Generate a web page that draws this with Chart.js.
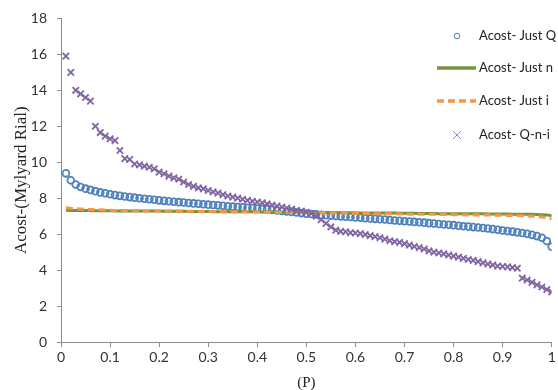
<!DOCTYPE html>
<html>
<head>
<meta charset="utf-8">
<script src="https://cdn.jsdelivr.net/npm/chart.js@4.4.0/dist/chart.umd.min.js"></script>
<style>
  html, body { margin: 0; padding: 0; background: #fff; }
  #wrap { width: 558px; height: 390px; position: relative; }
</style>
</head>
<body>
<div id="wrap"><canvas id="chart"></canvas></div>
<script>
// P VALUES (x axis)
const pValues = [
  0.01, 0.02, 0.03, 0.04, 0.05, 0.06, 0.07, 0.08, 0.09, 0.10,
  0.11, 0.12, 0.13, 0.14, 0.15, 0.16, 0.17, 0.18, 0.19, 0.20,
  0.21, 0.22, 0.23, 0.24, 0.25, 0.26, 0.27, 0.28, 0.29, 0.30,
  0.31, 0.32, 0.33, 0.34, 0.35, 0.36, 0.37, 0.38, 0.39, 0.40,
  0.41, 0.42, 0.43, 0.44, 0.45, 0.46, 0.47, 0.48, 0.49, 0.50,
  0.51, 0.52, 0.53, 0.54, 0.55, 0.56, 0.57, 0.58, 0.59, 0.60,
  0.61, 0.62, 0.63, 0.64, 0.65, 0.66, 0.67, 0.68, 0.69, 0.70,
  0.71, 0.72, 0.73, 0.74, 0.75, 0.76, 0.77, 0.78, 0.79, 0.80,
  0.81, 0.82, 0.83, 0.84, 0.85, 0.86, 0.87, 0.88, 0.89, 0.90,
  0.91, 0.92, 0.93, 0.94, 0.95, 0.96, 0.97, 0.98, 0.99, 1.00
];

// Acost- Just Q (blue circles)
const justQ = [
  9.38, 9.00, 8.76, 8.62, 8.53, 8.46, 8.39, 8.32, 8.27, 8.22,
  8.17, 8.13, 8.09, 8.06, 8.03, 8.00, 7.97, 7.94, 7.91, 7.88,
  7.85, 7.83, 7.80, 7.78, 7.76, 7.73, 7.71, 7.69, 7.66, 7.64,
  7.62, 7.60, 7.58, 7.55, 7.53, 7.51, 7.49, 7.47, 7.45, 7.43,
  7.40, 7.38, 7.35, 7.32, 7.29, 7.26, 7.23, 7.20, 7.17, 7.14,
  7.12, 7.10, 7.07, 7.05, 7.03, 7.01, 6.99, 6.97, 6.95, 6.93,
  6.91, 6.89, 6.87, 6.85, 6.83, 6.81, 6.79, 6.76, 6.74, 6.72,
  6.70, 6.68, 6.66, 6.64, 6.61, 6.59, 6.56, 6.54, 6.52, 6.50,
  6.47, 6.44, 6.42, 6.39, 6.37, 6.34, 6.31, 6.28, 6.24, 6.20,
  6.17, 6.14, 6.10, 6.06, 6.02, 5.96, 5.89, 5.80, 5.62, 5.30
];

// Acost- Just n (green line)
const justN = [
  7.33, 7.32, 7.32, 7.31, 7.31, 7.31, 7.30, 7.30, 7.30, 7.30,
  7.29, 7.29, 7.29, 7.29, 7.28, 7.28, 7.28, 7.28, 7.28, 7.28,
  7.27, 7.27, 7.27, 7.27, 7.27, 7.26, 7.26, 7.26, 7.26, 7.26,
  7.25, 7.25, 7.25, 7.25, 7.25, 7.24, 7.24, 7.24, 7.24, 7.24,
  7.23, 7.23, 7.23, 7.23, 7.22, 7.22, 7.22, 7.22, 7.21, 7.21,
  7.21, 7.21, 7.20, 7.20, 7.20, 7.20, 7.19, 7.19, 7.19, 7.19,
  7.18, 7.18, 7.18, 7.18, 7.17, 7.17, 7.17, 7.17, 7.16, 7.16,
  7.16, 7.16, 7.15, 7.15, 7.15, 7.15, 7.14, 7.14, 7.14, 7.14,
  7.14, 7.13, 7.13, 7.13, 7.13, 7.13, 7.12, 7.12, 7.12, 7.12,
  7.12, 7.11, 7.11, 7.11, 7.10, 7.10, 7.09, 7.08, 7.06, 7.03
];

// Acost- Just i (orange dashed)
const justI = [
  7.47, 7.44, 7.42, 7.40, 7.38, 7.37, 7.36, 7.35, 7.34, 7.33,
  7.32, 7.32, 7.31, 7.31, 7.30, 7.30, 7.30, 7.29, 7.29, 7.29,
  7.28, 7.28, 7.28, 7.28, 7.27, 7.27, 7.27, 7.27, 7.26, 7.26,
  7.26, 7.26, 7.25, 7.25, 7.25, 7.24, 7.24, 7.24, 7.23, 7.23,
  7.23, 7.22, 7.22, 7.22, 7.21, 7.21, 7.21, 7.20, 7.20, 7.20,
  7.19, 7.19, 7.19, 7.18, 7.18, 7.17, 7.17, 7.17, 7.16, 7.16,
  7.15, 7.15, 7.15, 7.14, 7.14, 7.13, 7.13, 7.13, 7.12, 7.12,
  7.11, 7.11, 7.11, 7.10, 7.10, 7.10, 7.09, 7.09, 7.09, 7.08,
  7.08, 7.08, 7.07, 7.07, 7.07, 7.06, 7.06, 7.06, 7.05, 7.05,
  7.04, 7.04, 7.03, 7.02, 7.01, 7.00, 6.98, 6.95, 6.91, 6.85
];

// Acost- Q-n-i (purple crosses)
const justQni = [
  15.90, 15.00, 14.00, 13.80, 13.60, 13.40, 12.00, 11.65, 11.45, 11.30,
  11.20, 10.65, 10.20, 10.15, 9.90, 9.85, 9.78, 9.72, 9.63, 9.45,
  9.36, 9.23, 9.13, 9.05, 8.90, 8.76, 8.66, 8.57, 8.52, 8.43,
  8.35, 8.28, 8.20, 8.12, 8.06, 8.00, 7.94, 7.88, 7.83, 7.79,
  7.74, 7.68, 7.61, 7.56, 7.51, 7.45, 7.39, 7.33, 7.28, 7.22,
  7.15, 7.00, 6.80, 6.60, 6.40, 6.22, 6.15, 6.13, 6.08, 6.06,
  6.03, 5.98, 5.92, 5.86, 5.80, 5.72, 5.63, 5.58, 5.54, 5.47,
  5.39, 5.31, 5.25, 5.17, 5.07, 5.00, 4.95, 4.90, 4.84, 4.78,
  4.72, 4.65, 4.59, 4.54, 4.47, 4.40, 4.34, 4.28, 4.22, 4.20,
  4.18, 4.14, 4.10, 3.55, 3.45, 3.32, 3.18, 3.06, 2.92, 2.78
];

const seriesNames = ["Acost- Just Q", "Acost- Just n", "Acost- Just i", "Acost- Q-n-i"];

const AXIS_COLOR = "#8c8c8c";
const TICK_FONT = { family: "Lato, 'Noto Sans', sans-serif", size: 14 };

function toPoints(values) {
  return pValues.map((p, i) => ({ x: p, y: values[i] }));
}

// LEGEND (drawn inside plot, top right)
const legendPlugin = {
  id: "insideLegend",
  afterDatasetsDraw(chart) {
    const ctx = chart.ctx;
    const rows = [36, 68, 101, 135];
    const textX = 479;
    ctx.save();
    ctx.font = "13px Lato, 'Noto Sans', sans-serif";
    ctx.fillStyle = "#222";
    ctx.textBaseline = "middle";
    ctx.textAlign = "left";

    // circle
    ctx.strokeStyle = "#4F81BD";
    ctx.lineWidth = 1;
    ctx.beginPath();
    ctx.arc(457, rows[0], 2.8, 0, Math.PI * 2);
    ctx.stroke();

    // green line
    ctx.strokeStyle = "#77933C";
    ctx.lineWidth = 3.5;
    ctx.beginPath();
    ctx.moveTo(437, rows[1]);
    ctx.lineTo(476, rows[1]);
    ctx.stroke();

    // orange dashed
    ctx.strokeStyle = "#F79646";
    ctx.setLineDash([7, 4]);
    ctx.beginPath();
    ctx.moveTo(437, rows[2]);
    ctx.lineTo(476, rows[2]);
    ctx.stroke();
    ctx.setLineDash([]);

    // cross
    ctx.strokeStyle = "#9C88C0";
    ctx.lineWidth = 1;
    ctx.beginPath();
    ctx.moveTo(453, rows[3] - 4);
    ctx.lineTo(461, rows[3] + 4);
    ctx.moveTo(461, rows[3] - 4);
    ctx.lineTo(453, rows[3] + 4);
    ctx.stroke();

    seriesNames.forEach((name, i) => ctx.fillText(name, textX, rows[i]));
    ctx.restore();
  }
};

const ctx = document.getElementById("chart").getContext("2d");
const chart = new Chart(ctx, {
  type: "scatter",
  data: {
    datasets: [
      {
        label: seriesNames[0],
        data: toPoints(justQ),
        showLine: false,
        pointStyle: "circle",
        pointRadius: 3.4,
        pointBorderWidth: 1.8,
        pointBorderColor: "#4F81BD",
        pointBackgroundColor: "rgba(255,255,255,0)",
        order: 3,
      },
      {
        label: seriesNames[1],
        data: toPoints(justN),
        showLine: true,
        borderColor: "#77933C",
        borderWidth: 3,
        pointRadius: 0,
        order: 2,
      },
      {
        label: seriesNames[2],
        data: toPoints(justI),
        showLine: true,
        borderColor: "#F79646",
        borderWidth: 3,
        borderDash: [7, 4],
        pointRadius: 0,
        order: 1,
      },
      {
        label: seriesNames[3],
        data: toPoints(justQni),
        showLine: false,
        pointStyle: "crossRot",
        pointRadius: 4.5,
        pointBorderWidth: 1.8,
        pointBorderColor: "#8064A2",
        order: 0,
      },
    ],
  },
  options: {
    responsive: true,
    maintainAspectRatio: false,
    animation: false,
    layout: {
      padding: { left: 0, top: 16, right: 2, bottom: 0 },
    },
    plugins: {
      legend: { display: false },
      tooltip: { enabled: false },
    },
    scales: {
      x: {
        type: "linear",
        min: 0,
        max: 1,
        afterFit: (scale) => { scale.height = 48; },
        grid: {
          display: true,
          drawOnChartArea: false,
          color: AXIS_COLOR,
          tickLength: 5,
        },
        border: { color: AXIS_COLOR },
        ticks: {
          stepSize: 0.1,
          color: "#333",
          font: TICK_FONT,
          padding: 2,
          maxRotation: 0,
          callback: (value) => String(Number(value.toFixed(1))),
        },
        title: {
          display: true,
          text: "(P)",
          color: "#222",
          font: { family: "'Liberation Serif', 'DejaVu Serif', serif", size: 15 },
          padding: { top: 0, bottom: -2 },
        },
      },
      y: {
        min: 0,
        max: 18,
        afterFit: (scale) => { scale.width = 61; },
        grid: {
          display: true,
          drawOnChartArea: false,
          color: AXIS_COLOR,
          tickLength: 4,
        },
        border: { color: AXIS_COLOR },
        ticks: {
          stepSize: 2,
          color: "#333",
          font: TICK_FONT,
          padding: 10,
        },
        title: {
          display: true,
          text: "Acost-(Mylyard Rial)",
          color: "#222",
          font: { family: "'Liberation Serif', 'DejaVu Serif', serif", size: 17 },
          padding: { top: 11, bottom: 0 },
        },
      },
    },
  },
  plugins: [legendPlugin],
});
</script>
</body>
</html>
